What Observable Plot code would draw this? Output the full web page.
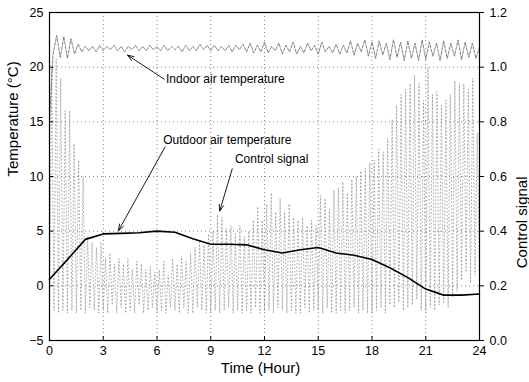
<!DOCTYPE html>
<html><head><meta charset="utf-8">
<script src="https://cdn.jsdelivr.net/npm/d3@7"></script>
<script src="https://cdn.jsdelivr.net/npm/@observablehq/plot@0.6"></script>
<style>body{margin:0;background:#fff}</style>
</head><body><div id="chart"></div>
<script>
// ---- data ----
const hours = [0,1,2,3,4,5,6,7,8,9,10,11,12,13,14,15,16,17,18,19,20,21,22,23,24];
const outdoorTemp = [0.6,2.4,4.25,4.75,4.8,4.85,5.0,4.9,4.3,3.8,3.8,3.75,3.3,3.0,3.3,3.5,3.0,2.8,2.4,1.65,0.75,-0.3,-0.85,-0.85,-0.75];

const indoorStep = 0.2; // hours between samples
const indoorTemp = [
  15.0,21.2,22.9,20.9,22.8,20.8,22.6,21.2,22.1,21.4,
  21.9,21.5,21.9,21.4,22.0,21.5,21.9,21.6,22.0,21.5,
  21.9,21.4,21.9,21.6,22.0,21.5,21.9,21.5,22.0,21.6,
  21.9,21.5,22.0,21.5,21.9,21.6,21.9,21.4,22.0,21.5,
  21.9,21.5,22.1,21.6,22.0,21.5,22.0,21.5,21.9,21.5,
  22.0,21.4,22.0,21.6,22.1,21.4,22.2,21.3,22.0,21.4,
  22.3,21.3,21.9,21.5,22.2,21.2,22.0,21.4,22.3,21.2,
  21.9,21.3,22.2,21.5,22.0,21.2,22.3,21.4,21.9,21.3,
  22.1,21.2,22.0,21.3,22.4,21.1,22.2,21.4,22.5,21.0,
  22.3,20.8,22.4,21.1,22.2,20.7,22.5,20.9,22.3,20.6,
  22.4,20.8,22.2,20.6,22.5,20.7,22.3,21.0,22.2,20.6,
  22.4,20.8,22.2,21.0,22.5,20.7,22.3,20.9,22.2,20.8,
  21.8
];

const ctrlCycle = 0.25; // hours per control cycle
const ctrlPeak = [
  1.00,1.03,0.96,0.84, 0.84,0.72,0.66,0.60, 0.38,0.36,0.34,0.36, 0.30,0.32,0.28,0.30,
  0.28,0.30,0.26,0.29, 0.28,0.26,0.27,0.25, 0.26,0.29,0.24,0.30, 0.28,0.31,0.29,0.32,
  0.34,0.36,0.35,0.39, 0.40,0.46,0.45,0.41, 0.42,0.39,0.42,0.38, 0.40,0.44,0.49,0.44,
  0.50,0.54,0.47,0.52, 0.47,0.50,0.45,0.44, 0.45,0.42,0.44,0.42, 0.53,0.52,0.48,0.55,
  0.56,0.58,0.54,0.59, 0.60,0.62,0.63,0.65, 0.66,0.70,0.69,0.74, 0.81,0.86,0.90,0.92,
  0.94,0.97,0.94,0.88, 1.00,0.90,0.91,0.86, 0.88,0.90,0.95,0.94, 0.94,0.92,0.96,0.76
];
const ctrlTrough = [
  0.12,0.11,0.10,0.11, 0.10,0.11,0.10,0.11, 0.10,0.12,0.11,0.10, 0.11,0.10,0.13,0.10,
  0.12,0.10,0.11,0.10, 0.13,0.10,0.11,0.12, 0.10,0.11,0.10,0.12, 0.11,0.10,0.12,0.10,
  0.10,0.12,0.11,0.10, 0.10,0.11,0.10,0.11, 0.12,0.10,0.11,0.10, 0.11,0.10,0.12,0.10,
  0.10,0.11,0.10,0.12, 0.11,0.10,0.11,0.10, 0.10,0.12,0.10,0.11, 0.11,0.10,0.12,0.10,
  0.10,0.11,0.10,0.11, 0.12,0.10,0.11,0.10, 0.10,0.11,0.12,0.10, 0.13,0.12,0.14,0.11,
  0.12,0.13,0.15,0.11, 0.10,0.12,0.11,0.13, 0.14,0.12,0.16,0.18, 0.22,0.25,0.21,0.24
];

const xTicks = [0,3,6,9,12,15,18,21,24];
const tempTicks = [-5,0,5,10,15,20,25];
const ctrlTicks = [0.0,0.2,0.4,0.6,0.8,1.0,1.2];
const ctrlDomain = [0, 1.2];
const tempDomain = [-5, 25];

const annotationText = ["Indoor air temperature","Outdoor air temperature","Control signal"];
const annotationTextX = [6.5, 6.35, 10.35];
const annotationTextY = [18.9, 13.3, 11.6];
const arrowFromX = [6.4, 6.45, 10.2];
const arrowFromY = [18.9, 12.7, 10.7];
const arrowToX = [4.36, 3.85, 9.5];
const arrowToY = [21.1, 5.05, 6.85];

// ---- build tables ----
const toTemp = c => tempDomain[0] + (c - ctrlDomain[0]) / (ctrlDomain[1] - ctrlDomain[0]) * (tempDomain[1] - tempDomain[0]);
const outdoor = hours.map((h, i) => ({x: h, y: outdoorTemp[i]}));
const indoor = indoorTemp.map((v, i) => ({x: i * indoorStep, y: v}));
const control = [];
ctrlPeak.forEach((p, i) => {
  control.push({x: i * ctrlCycle, y: toTemp(ctrlTrough[i])});
  control.push({x: i * ctrlCycle + ctrlCycle / 2, y: toTemp(p)});
});
control.push({x: 24, y: toTemp(ctrlTrough[ctrlTrough.length - 1])});
const annotations = annotationText.map((t, i) => ({t, x: annotationTextX[i], y: annotationTextY[i],
  x1: arrowFromX[i], y1: arrowFromY[i], x2: arrowToX[i], y2: arrowToY[i]}));

const font = "'Liberation Sans', Arial, Helvetica, sans-serif";
const W = 529, H = 382, mL = 49, mR = 50, mT = 12, mB = 42;
const innerW = W - mL - mR, innerH = H - mT - mB;

const chart = Plot.plot({
  width: W, height: H,
  marginLeft: mL, marginRight: mR, marginTop: mT, marginBottom: mB,
  style: {fontFamily: font, background: "#fff", color: "#000"},
  x: {domain: [0, 24], label: null},
  y: {domain: tempDomain, label: null},
  marks: [
    Plot.gridX(xTicks.slice(1, -1), {stroke: "#666", strokeOpacity: 1, strokeDasharray: "1,3", strokeWidth: 0.8}),
    Plot.gridY(tempTicks.slice(1, -1), {stroke: "#666", strokeOpacity: 1, strokeDasharray: "1,3", strokeWidth: 0.8}),
    Plot.line(control, {x: "x", y: "y", stroke: "#8c8c8c", strokeWidth: 0.7, strokeDasharray: "1,2.5"}),
    Plot.line(indoor, {x: "x", y: "y", stroke: "#666", strokeWidth: 0.8, strokeDasharray: "3,1.5"}),
    Plot.line(outdoor, {x: "x", y: "y", stroke: "#000", strokeWidth: 1.6}),
    Plot.frame({stroke: "#000", strokeWidth: 1.2}),
    // inward ticks on bottom and left
    Plot.tickX(xTicks, {x: d => d, stroke: "#000", insetTop: innerH - 4}),
    Plot.tickY(tempTicks, {y: d => d, stroke: "#000", insetRight: innerW - 4}),
    Plot.axisX(xTicks, {tickSize: 0, tickPadding: 6, fontSize: 12.5, label: null}),
    Plot.axisY(tempTicks, {anchor: "left", tickSize: 0, tickPadding: 6, fontSize: 12.5, label: null}),
    Plot.axisY(ctrlTicks.map(toTemp), {anchor: "right", tickSize: 4, tickPadding: 6, fontSize: 12.5, label: null,
      tickFormat: (d, i) => ctrlTicks[i].toFixed(1)}),
    Plot.text(["Temperature (°C)"], {frameAnchor: "left", dx: -36, rotate: -90, fontSize: 15}),
    Plot.text(["Control signal"], {frameAnchor: "right", dx: 43, rotate: -90, fontSize: 15}),
    Plot.text(["Time (Hour)"], {frameAnchor: "bottom", dy: 32, dx: -4, fontSize: 15}),
    Plot.arrow(annotations, {x1: "x1", y1: "y1", x2: "x2", y2: "y2", stroke: "#000", strokeWidth: 0.9, headLength: 11, headAngle: 40}),
    Plot.text(annotations, {x: "x", y: "y", text: "t", textAnchor: "start", fontSize: 12, fill: "#000"})
  ]
});
document.getElementById("chart").append(chart);
</script>
</body></html>
